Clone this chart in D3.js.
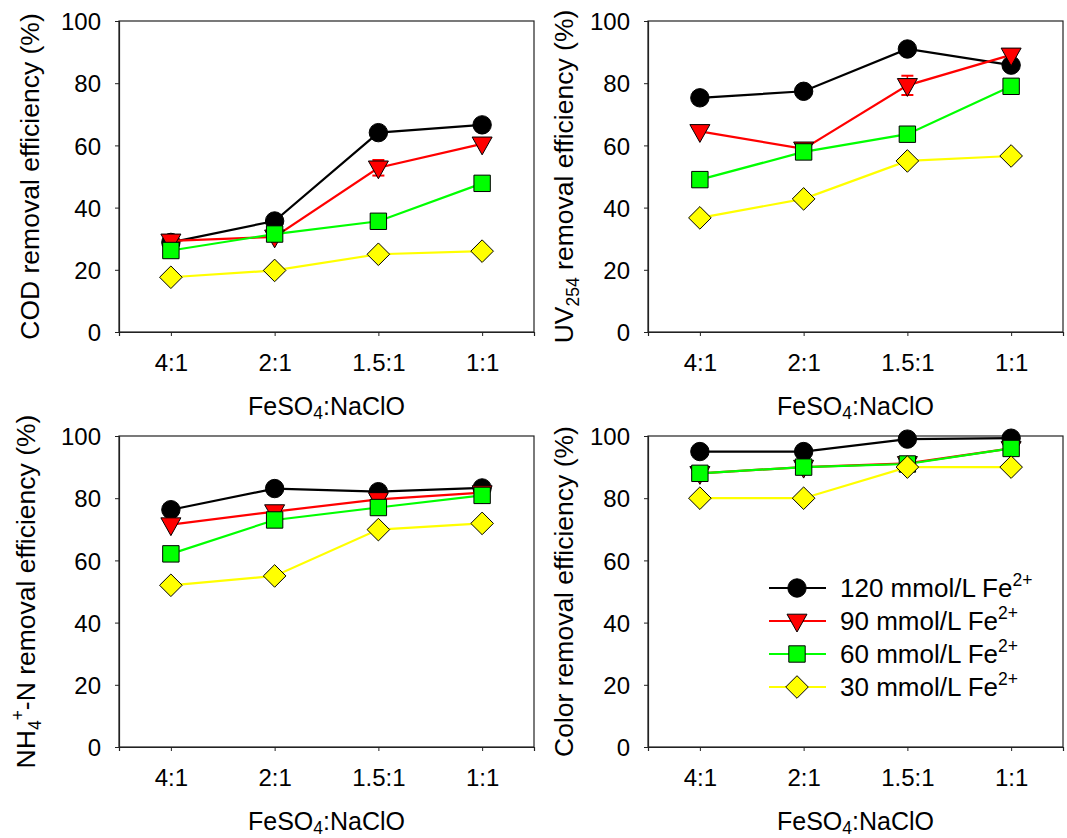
<!DOCTYPE html>
<html>
<head>
<meta charset="utf-8">
<script src="https://cdn.jsdelivr.net/npm/d3@7"></script>
<style>
  html, body { margin: 0; padding: 0; background: #fff; }
  svg { display: block; font-family: "Liberation Sans", Arial, sans-serif; }
</style>
</head>
<body>
<svg id="chart" width="1067" height="838"></svg>
<script>
// ---------- data ----------
const categories = ["4:1", "2:1", "1.5:1", "1:1"];
const yTicks = [0, 20, 40, 60, 80, 100];
const seriesLabels = ["120 mmol/L Fe", "90 mmol/L Fe", "60 mmol/L Fe", "30 mmol/L Fe"];
const seriesColors = ["#000000", "#ff0000", "#00ff00", "#ffff00"];
const seriesSymbols = ["circle", "triangleDown", "square", "diamond"];

// COD removal efficiency (%)
const cod120 = [28.8, 35.7, 64.1, 66.6];
const cod90  = [29.3, 30.6, 52.8, 60.5];
const cod60  = [26.2, 31.5, 35.6, 47.8];
const cod30  = [17.6, 19.8, 25.0, 26.0];
const codErr90 = [0, 0, 2.5, 0];

// UV254 removal efficiency (%)
const uv120 = [75.3, 77.4, 91.0, 85.8];
const uv90  = [64.5, 58.9, 79.3, 89.1];
const uv60  = [49.0, 57.9, 63.6, 79.0];
const uv30  = [36.7, 42.8, 55.0, 56.6];
const uvErr90 = [0, 0, 3.1, 0];

// NH4+-N removal efficiency (%)
const nh120 = [76.3, 83.1, 82.1, 83.3];
const nh90  = [71.5, 75.7, 79.6, 81.8];
const nh60  = [62.1, 73.0, 77.0, 80.9];
const nh30  = [52.0, 55.0, 69.9, 71.9];

// Color removal efficiency (%)
const col120 = [95.0, 95.0, 99.0, 99.3];
const col90  = [88.0, 90.0, 91.2, 96.0];
const col60  = [88.0, 90.0, 91.0, 96.0];
const col30  = [80.0, 80.0, 90.0, 90.0];

// ---------- layout ----------
const svg = d3.select("#chart");
const FONT_TICK = 24, FONT_XTITLE = 25, FONT_YTITLE = 26.5, FONT_LEGEND = 26, FONT_SMALL = 17.5;
const PW = 415, PH = 311;

const panels = [
  { x0: 119, y0: 21, series: [cod120, cod90, cod60, cod30], err: [null, codErr90, null, null],
    ytitle: [["COD removal efficiency (%)", "n"]], ytx: 39, legend: false },
  { x0: 648, y0: 21, series: [uv120, uv90, uv60, uv30], err: [null, uvErr90, null, null],
    ytitle: [["UV", "n"], ["254", "sub"], [" removal efficiency (%)", "n"]], ytx: 573, legend: false },
  { x0: 119, y0: 436, series: [nh120, nh90, nh60, nh30], err: [null, null, null, null],
    ytitle: [["NH", "n"], ["4", "sub"], ["+", "sup"], ["-N removal efficiency (%)", "n"]], ytx: 35, legend: false },
  { x0: 648, y0: 436, series: [col120, col90, col60, col30], err: [null, null, null, null],
    ytitle: [["Color removal efficiency (%)", "n"]], ytx: 573, legend: true }
];

function symbolPath(type) {
  switch (type) {
    case "circle": return d3.symbol(d3.symbolCircle, Math.PI * 9.2 * 9.2)();
    case "square": return "M-8.2,-8.2H8.2V8.2H-8.2Z";
    case "diamond": return "M0,-11.3L11.3,0L0,11.3L-11.3,0Z";
    case "triangleDown": return "M-10,-6.8L10,-6.8L0,11Z";
  }
}

// write rich text with sub/superscripts into a <text> element
function richText(textSel, parts, baseSize, subShift) {
  let offset = 0;
  parts.forEach(([t, kind]) => {
    let target = 0, size = baseSize;
    if (kind === "sub") { target = subShift || 6; size = FONT_SMALL; }
    if (kind === "sup") { target = -11; size = FONT_SMALL; }
    textSel.append("tspan")
      .attr("dy", target - offset)
      .attr("font-size", size)
      .text(t);
    offset = target;
  });
}

panels.forEach(p => {
  const g = svg.append("g").attr("transform", `translate(${p.x0},${p.y0})`);
  const x = d3.scalePoint().domain(categories).range([0, PW]).padding(0.5);
  const y = d3.scaleLinear().domain([0, 100]).range([PH, 0]);

  // frame
  g.append("rect").attr("x", 0).attr("y", 0).attr("width", PW).attr("height", PH)
    .attr("fill", "none").attr("stroke", "#222").attr("stroke-width", 1.2);

  // y axis
  const ya = g.append("g").call(d3.axisLeft(y).tickValues(yTicks).tickSize(4).tickPadding(14));
  ya.select(".domain").attr("stroke", "#222").attr("stroke-width", 1.2);
  ya.selectAll(".tick line").attr("stroke", "#222");
  ya.selectAll(".tick text").attr("font-size", FONT_TICK).attr("font-family", "Liberation Sans, Arial, sans-serif")
    .attr("fill", "#000").attr("dy", "0.36em");

  // x axis
  const xa = g.append("g").attr("transform", `translate(0,${PH})`)
    .call(d3.axisBottom(x).tickSize(4).tickPadding(18));
  xa.select(".domain").attr("stroke", "#222").attr("stroke-width", 1.2);
  xa.selectAll(".tick line").attr("stroke", "#222");
  xa.selectAll(".tick text").attr("font-size", FONT_TICK).attr("font-family", "Liberation Sans, Arial, sans-serif")
    .attr("fill", "#000").attr("dy", "0.71em");

  // x title
  const xt = g.append("text").attr("x", PW / 2).attr("y", PH + 83)
    .attr("text-anchor", "middle").attr("font-size", FONT_XTITLE);
  richText(xt, [["FeSO", "n"], ["4", "sub"], [":NaClO", "n"]], FONT_XTITLE, 4);

  // y title
  const yt = svg.append("text")
    .attr("transform", `translate(${p.ytx},${p.y0 + PH / 2}) rotate(-90)`)
    .attr("text-anchor", "middle").attr("font-size", FONT_YTITLE);
  richText(yt, p.ytitle, FONT_YTITLE);

  // series
  const line = d3.line().x((d, i) => x(categories[i])).y(d => y(d));
  p.series.forEach((vals, si) => {
    const sg = g.append("g");
    sg.append("path").datum(vals).attr("d", line)
      .attr("fill", "none").attr("stroke", seriesColors[si]).attr("stroke-width", 2.2);
    const err = p.err[si];
    if (err) {
      vals.forEach((v, i) => {
        if (!err[i]) return;
        const cx = x(categories[i]);
        sg.append("line").attr("x1", cx).attr("x2", cx).attr("y1", y(v - err[i])).attr("y2", y(v + err[i]))
          .attr("stroke", seriesColors[si]).attr("stroke-width", 1.5);
        [v - err[i], v + err[i]].forEach(e => {
          sg.append("line").attr("x1", cx - 6).attr("x2", cx + 6).attr("y1", y(e)).attr("y2", y(e))
            .attr("stroke", seriesColors[si]).attr("stroke-width", 2);
        });
      });
    }
    sg.selectAll("path.m").data(vals).enter().append("path").attr("class", "m")
      .attr("d", symbolPath(seriesSymbols[si]))
      .attr("transform", (d, i) => `translate(${x(categories[i])},${y(d)})`)
      .attr("fill", seriesColors[si]).attr("stroke", "#000").attr("stroke-width", 1);
  });

  // legend
  if (p.legend) {
    const rows = [152, 185, 218, 251];
    seriesLabels.forEach((lab, si) => {
      const lg = g.append("g").attr("transform", `translate(0,${rows[si]})`);
      lg.append("line").attr("x1", 121).attr("x2", 178).attr("y1", 0).attr("y2", 0)
        .attr("stroke", seriesColors[si]).attr("stroke-width", 2.2);
      lg.append("path").attr("d", symbolPath(seriesSymbols[si])).attr("transform", "translate(149,0)")
        .attr("fill", seriesColors[si]).attr("stroke", "#000").attr("stroke-width", 1);
      const t = lg.append("text").attr("x", 192).attr("y", 9).attr("font-size", FONT_LEGEND);
      richText(t, [[lab, "n"], ["2+", "sup"]], FONT_LEGEND);
    });
  }
});
</script>
</body>
</html>
